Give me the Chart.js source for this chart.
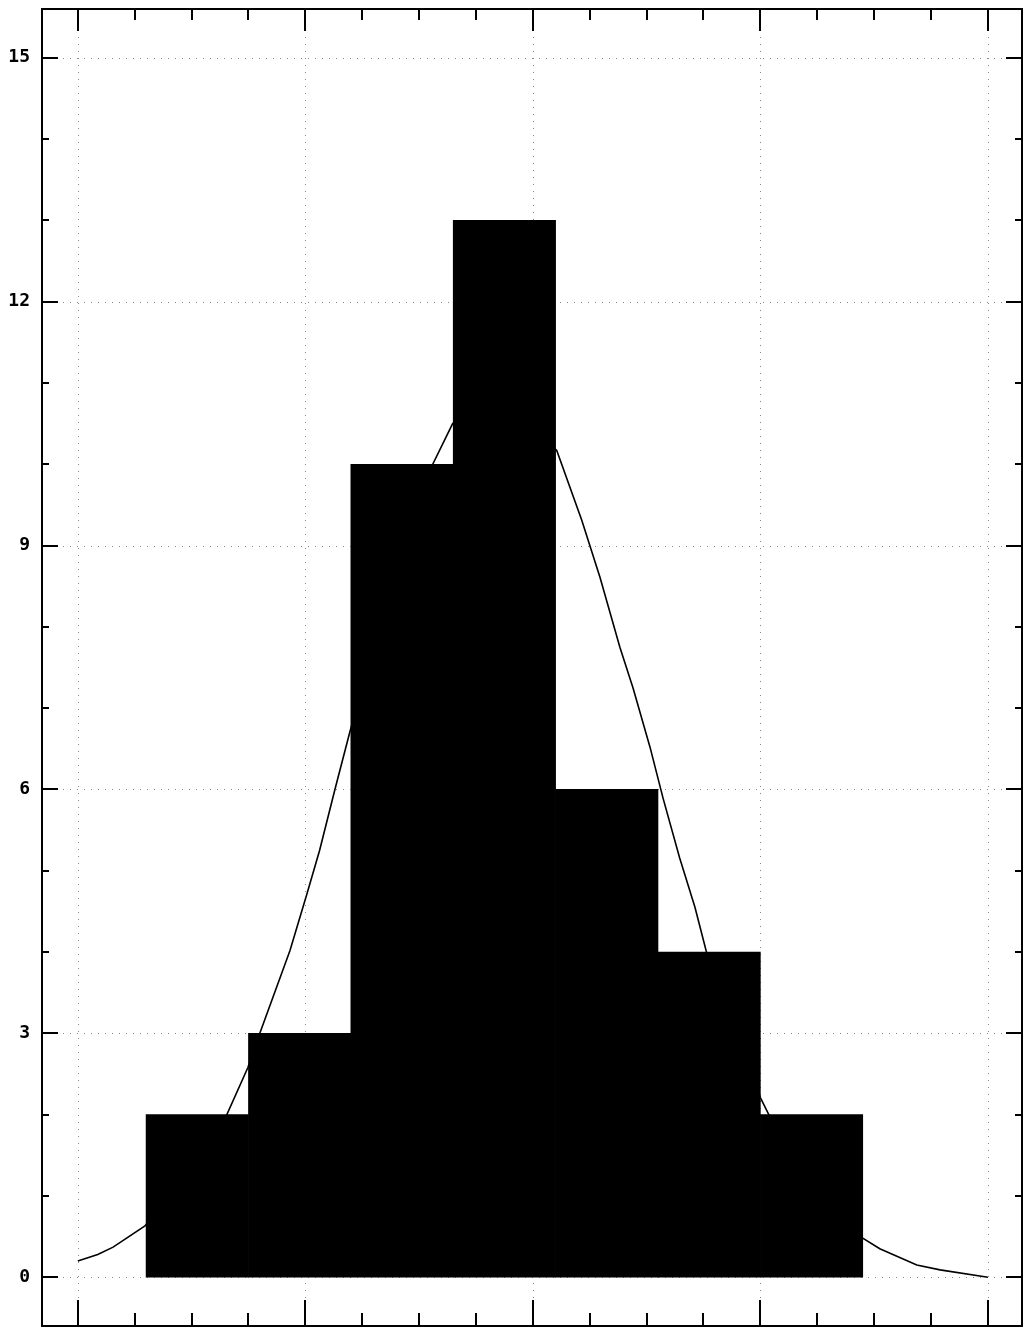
<!DOCTYPE html>
<html>
<head>
<meta charset="utf-8">
<script src="https://cdn.jsdelivr.net/npm/chart.js@4.4.1/dist/chart.umd.min.js"></script>
<style>
  html, body { margin: 0; padding: 0; background: #fff; }
  #wrap { width: 1030px; height: 1337px; position: relative; }
</style>
</head>
<body>
<div id="wrap"><canvas id="histChart"></canvas></div>
<script>
// Histogram bins (centre of each bin, width 1.8) and counts
const binCenters = [2.1, 3.9, 5.7, 7.5, 9.3, 11.1, 12.9];
const binCounts = [2, 3, 10, 13, 6, 4, 2];

// Fitted curve (partly hidden behind the bars)
const curveX = [0, 0.35, 0.62, 1.18, 2.62, 2.99, 3.2, 3.73, 4.03, 4.25, 4.52, 4.78, 5.5, 6.24, 6.59, 7.3,
                8.42, 8.86, 9.18, 9.53, 9.76, 10.06, 10.29, 10.58, 10.85, 11.06, 12.0, 12.17, 13.0, 13.8, 14.1, 14.75, 15.16, 16];
const curveY = [0.2, 0.28, 0.37, 0.63, 2.0, 2.58, 3.0, 4.02, 4.72, 5.25, 6.0, 6.7, 8.5, 10.0, 10.5, 10.9,
                10.17, 9.31, 8.61, 7.75, 7.25, 6.52, 5.89, 5.16, 4.55, 3.98, 2.21, 1.97, 1.1, 0.48, 0.35, 0.15, 0.09, 0.0];

// Tick labels on the y axis
const yLabels = [0, 3, 6, 9, 12, 15];

// Frame with inward tick marks on all four sides, plus dotted grid
const framePlugin = {
    id: 'frame',
    beforeDatasetsDraw(chart) {
        const { ctx, chartArea: a, scales: { x, y } } = chart;
        ctx.save();
        ctx.strokeStyle = '#888';
        ctx.lineWidth = 1;
        ctx.setLineDash([1, 6]);
        for (let v = 0; v <= 16; v += 4) {
            const px = Math.round(x.getPixelForValue(v)) + 0.5;
            ctx.beginPath(); ctx.moveTo(px, a.top); ctx.lineTo(px, a.bottom); ctx.stroke();
        }
        yLabels.forEach(v => {
            const py = Math.round(y.getPixelForValue(v)) + 0.5;
            ctx.beginPath(); ctx.moveTo(a.left, py); ctx.lineTo(a.right, py); ctx.stroke();
        });
        ctx.restore();
    },
    afterDraw(chart) {
        const { ctx, chartArea: a, scales: { x, y } } = chart;
        ctx.save();
        ctx.strokeStyle = '#000';
        ctx.lineWidth = 2;
        ctx.strokeRect(a.left, a.top, a.right - a.left, a.bottom - a.top);
        ctx.beginPath();
        for (let v = 0; v <= 16; v++) {
            const px = Math.round(x.getPixelForValue(v));
            const major = v % 4 === 0;
            ctx.moveTo(px, a.bottom); ctx.lineTo(px, a.bottom - (major ? 26 : 13));
            ctx.moveTo(px, a.top); ctx.lineTo(px, a.top + (major ? 22 : 11));
        }
        for (let v = 0; v <= 15; v++) {
            const py = Math.round(y.getPixelForValue(v));
            const major = v % 3 === 0;
            ctx.moveTo(a.left, py); ctx.lineTo(a.left + (major ? 16 : 7), py);
            ctx.moveTo(a.right, py); ctx.lineTo(a.right - (major ? 16 : 7), py);
        }
        ctx.stroke();
        ctx.restore();
    }
};

let histChart;

const initChart = () => {
    const ctx = document.getElementById('histChart').getContext('2d');
    histChart = new Chart(ctx, {
        type: 'bar',
        data: {
            datasets: [{
                type: 'bar',
                data: binCenters.map((c, i) => ({ x: c, y: binCounts[i] })),
                backgroundColor: '#000',
                borderWidth: 0,
                barPercentage: 1,
                categoryPercentage: 1,
                order: 1
            }, {
                type: 'line',
                data: curveX.map((c, i) => ({ x: c, y: curveY[i] })),
                borderColor: '#000',
                borderWidth: 1.6,
                pointRadius: 0,
                tension: 0,
                fill: false,
                order: 2
            }]
        },
        options: {
            responsive: true,
            maintainAspectRatio: false,
            animation: false,
            layout: { autoPadding: false, padding: { top: 9, right: 8, bottom: 11, left: 0 } },
            plugins: { legend: { display: false }, tooltip: { enabled: false } },
            scales: {
                x: {
                    type: 'linear',
                    offset: false,
                    min: -0.63,
                    max: 16.6,
                    display: false
                },
                y: {
                    min: -0.6,
                    max: 15.6,
                    grid: { display: false, drawTicks: false },
                    border: { display: false },
                    afterBuildTicks: (scale) => { scale.ticks = yLabels.map(v => ({ value: v })); },
                    afterFit: (scale) => {
                        scale.width = 42;
                        scale.paddingTop = 0;
                        scale.paddingBottom = 0;
                    },
                    ticks: {
                        color: '#000',
                        padding: 12,
                        font: { family: 'DejaVu Sans Mono', size: 18, weight: 'bold' }
                    }
                }
            }
        },
        plugins: [framePlugin]
    });
};

document.addEventListener('DOMContentLoaded', initChart);
</script>
</body>
</html>
